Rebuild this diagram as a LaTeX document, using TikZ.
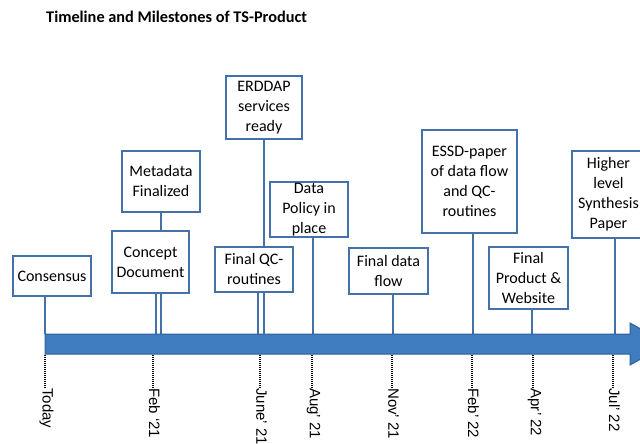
\documentclass[tikz,border=0pt]{standalone}
\usepackage{fontspec}
\setmainfont{Carlito}
\newfontfamily\lblfont{Liberation Sans}
\definecolor{arrowfill}{HTML}{3F7DC0}
\definecolor{arrowdraw}{HTML}{2E5F96}
\definecolor{boxblue}{HTML}{4472A8}
\begin{document}
\begin{tikzpicture}[x=1pt,y=-1pt,
  mbox/.style={draw=boxblue,line width=1.6pt,fill=white,align=center,inner sep=0pt,
    font=\fontsize{16}{20}\selectfont},
  conn/.style={draw=boxblue,line width=1.4pt},
  tickline/.style={draw=black,line width=1.5pt,dash pattern=on 0.9pt off 1.1pt},
  datelbl/.style={rotate=-90,anchor=west,inner sep=0pt,font=\lblfont\fontsize{15}{17}\selectfont}]
\useasboundingbox (0,0) rectangle (640,444);
\clip (0,0) rectangle (640,444);
% title
\node[anchor=west,inner sep=0pt,font=\bfseries\fontsize{16.3}{18}\selectfont] (title) at (46,17) {Timeline and Milestones of TS-Product};
% coordinates on top of the arrow
\coordinate (cCons) at (45,334);
\coordinate (cConc) at (156,334);
\coordinate (cMeta) at (161,334);
\coordinate (cQC) at (258,334);
\coordinate (cErd) at (264,334);
\coordinate (cPol) at (313,334);
\coordinate (cFlow) at (393,334);
\coordinate (cEssd) at (473,334);
\coordinate (cProd) at (532,334);
\coordinate (cHigh) at (615,334);
% long connectors passing behind lower boxes
\node[mbox,minimum width=78pt,minimum height=61pt] (meta) at (161,181.5) {Metadata\\Finalized};
\node[mbox,minimum width=76pt,minimum height=63pt] (erd) at (264,107.5) {ERDDAP\\services\\ready};
\draw[conn] (meta.south -| cMeta) -- (cMeta);
\draw[conn] (erd.south -| cErd) -- (cErd);
% boxes
\node[mbox,minimum width=78pt,minimum height=40pt] (cons) at (52,276) {Consensus};
\node[mbox,minimum width=77pt,minimum height=62pt] (conc) at (150.5,262) {Concept\\Document};
\node[mbox,minimum width=78pt,minimum height=45pt] (qc) at (254,269.5) {Final QC-\\routines};
\node[mbox,minimum width=78pt,minimum height=55pt] (pol) at (309,209.5) {Data\\Policy in\\place};
\node[mbox,minimum width=79pt,minimum height=46pt] (flow) at (388.5,271) {Final data\\flow};
\node[mbox,minimum width=95pt,minimum height=103pt] (essd) at (469.5,181.5) {ESSD-paper\\of data flow\\and QC-\\routines};
\node[mbox,minimum width=79pt,minimum height=62pt] (prod) at (528.5,278) {Final\\Product \&\\Website};
\node[mbox,minimum width=80pt,minimum height=87pt] (high) at (612,194.5) {};
\node[align=center,inner sep=0pt,font=\fontsize{16}{20}\selectfont] (highT) at (608.5,194.5) {Higher\\level\\Synthesis\\Paper};
% connectors from boxes to arrow
\draw[conn] (cons.south -| cCons) -- (cCons);
\draw[conn] (conc.south -| cConc) -- (cConc);
\draw[conn] (qc.south -| cQC) -- (cQC);
\draw[conn] (pol.south -| cPol) -- (cPol);
\draw[conn] (flow.south -| cFlow) -- (cFlow);
\draw[conn] (essd.south -| cEssd) -- (cEssd);
\draw[conn] (prod.south -| cProd) -- (cProd);
\draw[conn] (high.south -| cHigh) -- (cHigh);
% timeline arrow
\draw[fill=arrowfill,draw=arrowdraw,line width=1pt,line join=miter]
  (45,334) -- (630,334) -- (630,323) -- (668,344) -- (630,365) -- (630,354) -- (45,354) -- cycle;
% ticks and dates
\foreach \x/\nm/\txt in {45/dToday/Today, 153/dFeb/Feb ‘21, 260/dJun/June’ 21, 312/dAug/Aug’ 21, 392/dNov/Nov’ 21, 472/dFebb/Feb’ 22, 533/dApr/Apr’ 22, 613/dJul/Jul’ 22}{
  \coordinate (t\nm) at (\x,355);
  \node[datelbl] (\nm) at (\x+1.5,388) {\txt};
  \draw[tickline] (t\nm) -- (\nm.west -| t\nm);
}
\end{tikzpicture}
\end{document}
